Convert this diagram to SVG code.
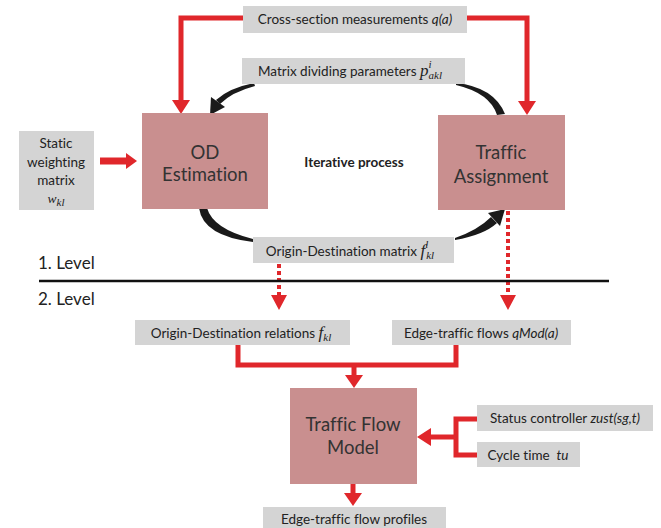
<svg xmlns="http://www.w3.org/2000/svg" width="661" height="528" viewBox="0 0 661 528">
<style>
text{font-variant-ligatures:none;font-feature-settings:"liga" 0}
.lbl{fill:#d4d4d4}
.box{fill:#c98f8f}
.t{font-family:Lato,"Open Sans","Liberation Sans",sans-serif;font-size:13.5px;fill:#222;text-anchor:middle}
.big{font-family:Lato,"Open Sans","Liberation Sans",sans-serif;font-size:18.5px;fill:#333;text-anchor:middle}
.lv{font-family:Lato,"Open Sans","Liberation Sans",sans-serif;font-size:17px;fill:#222}
.m{font-family:"Liberation Serif",serif;font-style:italic}
.red{fill:none;stroke:#e0272b;stroke-width:5}
.dot{fill:none;stroke:#e0272b;stroke-width:4;stroke-dasharray:4 3}
.rh{fill:#e0272b}
.bh{fill:#1a1a1a}
</style>
<rect width="661" height="528" fill="#fff"/>
<g id="connectors">
<path class="red" d="M243,18 H181 V101"/><polygon class="rh" points="172,100 190,100 181,114"/>
<path class="red" d="M467,18 H527 V102"/><polygon class="rh" points="518,101 536,101 527,115"/>
<path d="M100,161 H127" stroke="#e0272b" stroke-width="7" fill="none"/><polygon class="rh" points="126,153 137,161 126,169"/>
<path class="bh" d="M254,83 Q229,88 216,100 L220,104 Q232,92 255,86 Z"/><polygon class="bh" points="211,97 225,107 210,115"/>
<path class="bh" d="M456,83 Q494,87 505,114 L497,115 Q490,93 456,85 Z"/>
<path class="bh" d="M199,208 Q203,236 253,242 L253,239 Q213,229 207,208 Z"/>
<path class="bh" d="M455,240 Q484,235 497,223 L491,217 Q478,230 455,238 Z"/><polygon class="bh" points="488,213 500,226 505,209"/>
<path class="dot" d="M508,211 V297"/><polygon class="rh" points="500,295 516,295 508,310"/>
<path class="dot" d="M279,264 V297"/><polygon class="rh" points="271,295 287,295 279,310"/>
<path class="red" d="M238,345 V365 H456 V345"/>
<path class="red" d="M354,365 V377"/><polygon class="rh" points="345,375 363,375 354,388"/>
<path class="red" d="M477,419 H456 V455 H477"/>
<path class="red" d="M456,437 H430"/><polygon class="rh" points="431,428 431,446 417,437"/>
<path class="red" d="M353,484 V494"/><polygon class="rh" points="344,493 362,493 353,506"/>
<line x1="39" y1="281" x2="609" y2="281" stroke="#111" stroke-width="2.5"/>
</g>
<g id="cross-section"><rect class="lbl" x="243" y="6" width="224" height="27"/><text class="t" x="355" y="24">Cross-section measurements <tspan font-style="italic">q(a)</tspan></text></g>
<g id="matrix-dividing"><rect class="lbl" x="242" y="58" width="223" height="26"/><text class="t" x="350" y="76">Matrix dividing parameters <tspan class="m" font-size="17">p</tspan><tspan class="m" font-size="11" dy="-8">i</tspan><tspan class="m" font-size="11" dx="-3" dy="11">akl</tspan></text></g>
<g id="static"><rect class="lbl" x="19" y="131" width="75" height="79"/><text class="t" x="56" y="148">Static</text><text class="t" x="56" y="167">weighting</text><text class="t" x="56" y="185">matrix</text><text class="t m" x="56" y="203" font-size="17">w<tspan font-size="11" dy="3">kl</tspan></text></g>
<g id="od-estimation"><rect class="box" x="142" y="113" width="126" height="96"/><text class="big" x="205" y="159">OD</text><text class="big" x="205" y="181">Estimation</text></g>
<g id="iterative"><text class="t" x="354" y="167" font-weight="bold" font-size="12.5">Iterative process</text></g>
<g id="traffic-assignment"><rect class="box" x="438" y="115" width="127" height="95"/><text class="big" x="501" y="159">Traffic</text><text class="big" x="501" y="183">Assignment</text></g>
<g id="od-matrix"><rect class="lbl" x="253" y="237" width="201" height="26"/><text class="t" x="350" y="256">Origin-Destination matrix <tspan class="m" font-size="17">f</tspan><tspan class="m" font-size="11" dy="-8">l</tspan><tspan class="m" font-size="11" dx="-2" dy="11">kl</tspan></text></g>
<g id="level1"><text class="lv" x="38" y="269">1. Level</text></g>
<g id="level2"><text class="lv" x="38" y="305">2. Level</text></g>
<g id="od-relations"><rect class="lbl" x="135" y="320" width="215" height="25"/><text class="t" x="241" y="338">Origin-Destination relations <tspan class="m" font-size="17">f</tspan><tspan class="m" font-size="11" dy="3">kl</tspan></text></g>
<g id="edge-flows"><rect class="lbl" x="392" y="320" width="179" height="25"/><text class="t" x="481" y="338">Edge-traffic flows <tspan font-style="italic">qMod(a)</tspan></text></g>
<g id="traffic-flow-model"><rect class="box" x="290" y="388" width="127" height="96"/><text class="big" x="353" y="431">Traffic Flow</text><text class="big" x="353" y="454">Model</text></g>
<g id="status"><rect class="lbl" x="477" y="405" width="176" height="26"/><text class="t" x="565" y="423">Status controller <tspan font-style="italic">zust(sg,t)</tspan></text></g>
<g id="cycle"><rect class="lbl" x="477" y="442" width="103" height="25"/><text class="t" x="528" y="460" xml:space="preserve">Cycle time  <tspan font-style="italic">tu</tspan></text></g>
<g id="profiles"><rect class="lbl" x="263" y="507" width="183" height="25"/><text class="t" x="354" y="524">Edge-traffic flow profiles</text></g>
</svg>
